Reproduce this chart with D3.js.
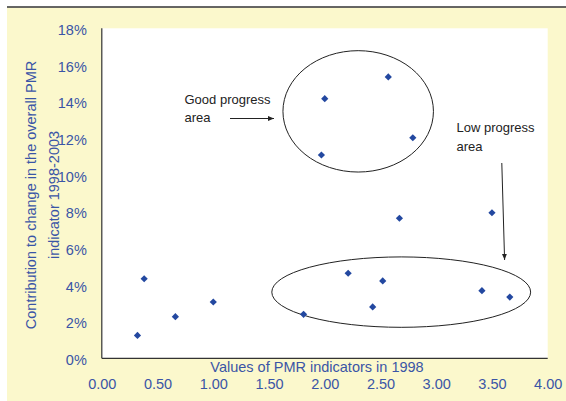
<!DOCTYPE html>
<html>
<head>
<meta charset="utf-8">
<script src="https://cdn.jsdelivr.net/npm/d3@7"></script>
<style>
  body { margin: 0; background: #fff; }
  text { font-family: "Liberation Sans", Arial, sans-serif; }
</style>
</head>
<body>
<script>
// values
var pmr1998 = [0.32, 0.38, 0.66, 1.00, 1.81, 2.00, 1.97, 2.21, 2.52, 2.43, 2.57, 2.67, 2.79, 3.50, 3.41, 3.66];
var contribution = [1.25, 4.34, 2.27, 3.07, 2.40, 14.16, 11.09, 4.64, 4.22, 2.80, 15.35, 7.64, 12.03, 7.94, 3.69, 3.34];
var xTicks = [0, 0.5, 1, 1.5, 2, 2.5, 3, 3.5, 4];
var yTicks = [0, 2, 4, 6, 8, 10, 12, 14, 16, 18];

// circled groups (centre and radii in data units)
var groups = [
  {cx: 2.30, cy: 13.47, rx: 0.675, ry: 3.31},
  {cx: 2.686, cy: 3.61, rx: 1.161, ry: 1.92}
];

var W = 566, H = 401;
var margin = {top: 28.3, right: 18.3, bottom: 42.7, left: 101.8},
    width = W - margin.left - margin.right,
    height = H - margin.top - margin.bottom;

var blue = "#3a55a6";
var dot = "#2348a0";

var svg = d3.select("body").append("svg")
    .attr("width", W)
    .attr("height", H);

//background panel
svg.append("rect").attr("x", 7).attr("y", 7.5).attr("width", W - 7).attr("height", H - 7.5).attr("fill", "#fbf8cc");
svg.append("line").attr("x1", 7).attr("x2", W).attr("y1", 7).attr("y2", 7)
    .attr("stroke", "#333").attr("stroke-width", 1.4);

var defs = svg.append("defs");
defs.append("marker")
    .attr("id", "head")
    .attr("viewBox", "0 0 10 10")
    .attr("refX", 10).attr("refY", 5)
    .attr("markerWidth", 6).attr("markerHeight", 6)
    .attr("markerUnits", "userSpaceOnUse")
    .attr("orient", "auto")
    .append("path").attr("d", "M0,1 L10,5 L0,9 Z").attr("fill", "#222");

var g = svg.append("g")
    .attr("transform", "translate(" + margin.left + "," + margin.top + ")");

g.append("rect").attr("width", width).attr("height", height).attr("fill", "#fff");

//scales
var x = d3.scaleLinear().domain([0, 4]).range([0, width]);
var y = d3.scaleLinear().domain([0, 18]).range([height, 0]);

var xAxis = d3.axisBottom(x).tickValues(xTicks).tickSize(0).tickPadding(20).tickFormat(d3.format(".2f"));
var yAxis = d3.axisLeft(y).tickValues(yTicks).tickSize(0).tickPadding(15).tickFormat(function(d) { return d + "%"; });

var gx = g.append("g")
    .attr("transform", "translate(0," + height + ")")
    .call(xAxis);
var gy = g.append("g").call(yAxis);

[gx, gy].forEach(function(a) {
    a.select(".domain").remove();
    a.selectAll("text")
        .attr("fill", blue)
        .style("font-size", "14.5px")
        .style("font-family", "'Liberation Sans', Arial, sans-serif");
});
gy.selectAll("text").attr("dy", "0.42em");

//axis lines
g.append("line").attr("x1", 0).attr("x2", 0).attr("y1", 0).attr("y2", height)
    .attr("stroke", "#333").attr("stroke-width", 1.2);
g.append("line").attr("x1", 0).attr("x2", width).attr("y1", height).attr("y2", height)
    .attr("stroke", "#333").attr("stroke-width", 1.2);

//ellipses
g.selectAll("ellipse")
    .data(groups)
    .enter()
    .append("ellipse")
    .attr("cx", function(d) { return x(d.cx); })
    .attr("cy", function(d) { return y(d.cy); })
    .attr("rx", function(d) { return x(d.rx) - x(0); })
    .attr("ry", function(d) { return y(0) - y(d.ry); })
    .attr("fill", "none")
    .attr("stroke", "#222")
    .attr("stroke-width", 1);

//points - square turned 45deg
var diamond = d3.symbol().type(d3.symbolSquare).size(26);
g.selectAll("path.pt")
    .data(pmr1998)
    .enter()
    .append("path")
    .attr("class", "pt")
    .attr("d", diamond)
    .attr("transform", function(d, i) {
        return "translate(" + x(d) + "," + y(contribution[i]) + ") rotate(45)";
    })
    .attr("fill", dot);

//annotations
var note = svg.append("g").attr("fill", "#222").style("font-size", "13px");
note.append("text").attr("x", 184.5).attr("y", 104).text("Good progress");
note.append("text").attr("x", 184.5).attr("y", 121.5).text("area");
note.append("text").attr("x", 456.5).attr("y", 131.5).text("Low progress");
note.append("text").attr("x", 456.5).attr("y", 150.5).text("area");

svg.append("line").attr("x1", 230).attr("y1", 118.5).attr("x2", 274).attr("y2", 118.5)
    .attr("stroke", "#222").attr("stroke-width", 1).attr("marker-end", "url(#head)");
svg.append("line").attr("x1", 501.8).attr("y1", 163).attr("x2", 504.6).attr("y2", 260)
    .attr("stroke", "#222").attr("stroke-width", 1).attr("marker-end", "url(#head)");

//axis titles
svg.append("text")
    .attr("x", 317).attr("y", 367)
    .attr("dy", "0.35em")
    .attr("text-anchor", "middle")
    .attr("fill", blue)
    .style("font-size", "14.5px")
    .text("Values of PMR indicators in 1998");

var yl = svg.append("g")
    .attr("transform", "translate(0,195) rotate(-90)")
    .attr("fill", blue)
    .style("font-size", "14.5px")
    .attr("text-anchor", "middle");
yl.append("text").attr("x", 0).attr("y", 30.7).attr("dy", "0.35em").text("Contribution to change in the overall PMR");
yl.append("text").attr("x", 0).attr("y", 54).attr("dy", "0.35em").text("indicator 1998-2003");
</script>
</body>
</html>
